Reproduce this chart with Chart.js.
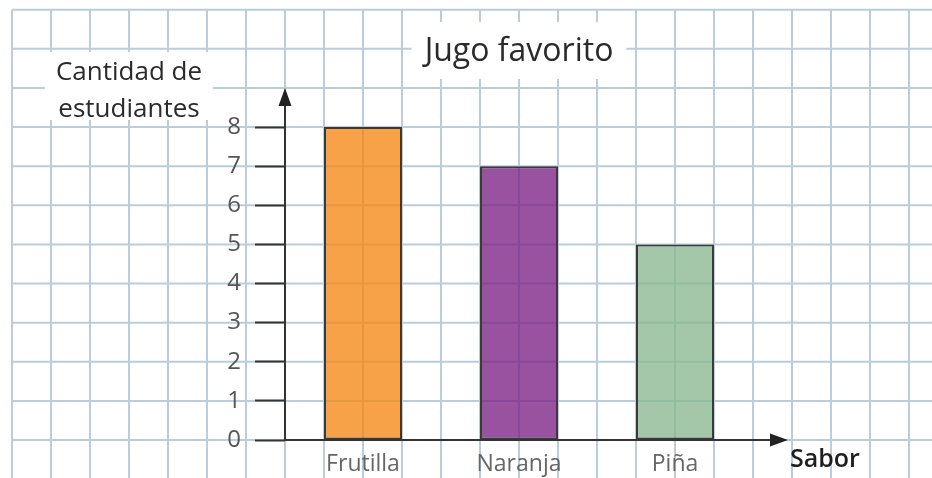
<!DOCTYPE html>
<html>
<head>
<meta charset="utf-8">
<title>Jugo favorito</title>
<script src="https://cdn.jsdelivr.net/npm/chart.js@4/dist/chart.umd.min.js"></script>
<style>
  html, body { margin: 0; padding: 0; background: #fff; }
  canvas { display: block; }
</style>
</head>
<body>
<canvas id="juiceChart" width="932" height="478"></canvas>
<script>
const categories = ['Frutilla', 'Naranja', 'Piña'];
const students = [8, 7, 5];
const yMin = 0;
const yMax = 8;
const chartTitle = 'Jugo favorito';
const yAxisTitle = ['Cantidad de', 'estudiantes'];
const xAxisTitle = 'Sabor';

const barColors = ['rgba(245,136,20,0.78)', 'rgba(123,33,133,0.78)', 'rgba(137,183,144,0.78)'];
const FONT = '"Open Sans", "DejaVu Sans", sans-serif';

// squared paper behind everything, cells follow the scales
const paperGrid = {
    id: 'paperGrid',
    beforeDraw: function(chart) {
        const { ctx, width, height, chartArea } = chart;
        const x = chart.scales.x, y = chart.scales.y;
        const stepY = y.getPixelForValue(0) - y.getPixelForValue(1);
        const stepX = (x.getPixelForValue(1) - x.getPixelForValue(0)) / 4;
        const x0 = chartArea.left;
        const y0 = y.getPixelForValue(0);
        const firstX = x0 - Math.floor((x0 - 8) / stepX) * stepX;
        const firstY = y0 - Math.floor((y0 - 6) / stepY) * stepY;

        ctx.save();
        ctx.fillStyle = '#fff';
        ctx.fillRect(0, 0, width, height);
        ctx.strokeStyle = 'rgba(145,175,200,0.62)';
        ctx.lineWidth = 2;
        ctx.beginPath();
        for (let gx = firstX; gx <= width; gx += stepX) {
            ctx.moveTo(gx, firstY);
            ctx.lineTo(gx, height);
        }
        for (let gy = firstY; gy <= height; gy += stepY) {
            ctx.moveTo(firstX, gy);
            ctx.lineTo(width, gy);
        }
        ctx.stroke();

        // white patches behind the titles
        ctx.fillStyle = '#fff';
        const tb = chart.titleBlock;
        if (tb) {
            ctx.font = '500 32px ' + FONT;
            const w = ctx.measureText(chartTitle).width + 26;
            const cx = tb.left + tb.width / 2;
            const cy = tb.top + tb.options.padding.top + 19;
            ctx.fillRect(cx - w / 2, cy - 30, w, 57);
        }
        ctx.font = '26px ' + FONT;
        const yw = Math.max(...yAxisTitle.map(t => ctx.measureText(t).width)) + 22;
        const ycx = x0 - 4 * stepX;
        const base2 = y.getPixelForValue(yMax) - 10;
        ctx.fillRect(ycx - yw / 2, base2 - 65, yw, 68);
        ctx.restore();
    },
    afterDatasetsDraw: function(chart) {
        const { ctx, chartArea } = chart;
        const y = chart.scales.y;
        const x0 = chartArea.left;
        const y0 = y.getPixelForValue(0);
        const tipY = y.getPixelForValue(yMax + 1);
        const tipX = chartArea.right + 35;

        ctx.save();
        ctx.strokeStyle = '#333';
        ctx.fillStyle = '#222';
        ctx.lineWidth = 2;
        ctx.beginPath();
        ctx.moveTo(x0, y0);
        ctx.lineTo(x0, tipY + 10);
        ctx.moveTo(x0, y0);
        ctx.lineTo(tipX - 10, y0);
        ctx.stroke();

        ctx.beginPath();
        ctx.moveTo(x0, tipY);
        ctx.lineTo(x0 - 6.5, tipY + 18);
        ctx.lineTo(x0 + 6.5, tipY + 18);
        ctx.closePath();
        ctx.fill();

        ctx.beginPath();
        ctx.moveTo(tipX, y0);
        ctx.lineTo(tipX - 18, y0 - 6.5);
        ctx.lineTo(tipX - 18, y0 + 6.5);
        ctx.closePath();
        ctx.fill();
        ctx.restore();
    },
    afterDraw: function(chart) {
        const { ctx, chartArea } = chart;
        const x = chart.scales.x, y = chart.scales.y;
        const stepX = (x.getPixelForValue(1) - x.getPixelForValue(0)) / 4;
        const y0 = y.getPixelForValue(0);

        ctx.save();
        ctx.fillStyle = '#2a2a2a';
        ctx.textBaseline = 'alphabetic';
        ctx.textAlign = 'center';
        ctx.font = '26px ' + FONT;
        const ycx = chartArea.left - 4 * stepX;
        const base2 = y.getPixelForValue(yMax) - 10;
        ctx.fillText(yAxisTitle[0], ycx, base2 - 37);
        ctx.fillText(yAxisTitle[1], ycx, base2);

        ctx.textAlign = 'left';
        ctx.fillStyle = '#1e1e1e';
        ctx.font = '600 25px ' + FONT;
        ctx.fillText(xAxisTitle, chartArea.right + 37, y0 + 27);
        ctx.restore();
    }
};

const ctx = document.getElementById('juiceChart').getContext('2d');
const juiceChart = new Chart(ctx, {
    type: 'bar',
    data: {
        labels: categories,
        datasets: [{
            data: students,
            backgroundColor: barColors,
            borderColor: '#3a3a3a',
            borderWidth: 2,
            borderSkipped: false,
            barPercentage: 1,
            categoryPercentage: 0.5
        }]
    },
    options: {
        responsive: false,
        devicePixelRatio: 1,
        animation: false,
        layout: {
            padding: { left: 225, right: 179, top: 0, bottom: 0 }
        },
        scales: {
            x: {
                offset: true,
                grid: { display: false },
                border: { display: false },
                ticks: {
                    padding: 3,
                    color: '#666',
                    font: { family: FONT, size: 23 }
                },
                afterFit: function(scale) { scale.height = 38; }
            },
            y: {
                min: yMin,
                max: yMax,
                border: { display: false },
                grid: {
                    drawOnChartArea: false,
                    drawTicks: true,
                    tickLength: 30,
                    tickColor: '#333',
                    tickWidth: 2
                },
                ticks: {
                    stepSize: 1,
                    padding: 14,
                    color: '#555',
                    font: { family: FONT, size: 24 }
                },
                afterFit: function(scale) { scale.width = 60; }
            }
        },
        plugins: {
            legend: { display: false },
            tooltip: { enabled: false },
            title: {
                display: true,
                text: chartTitle,
                fullSize: false,
                color: '#2a2a2a',
                font: { family: FONT, size: 32, weight: '500', lineHeight: 1.2 },
                padding: { top: 33, bottom: 55.6 }
            }
        }
    },
    plugins: [paperGrid]
});
</script>
</body>
</html>
